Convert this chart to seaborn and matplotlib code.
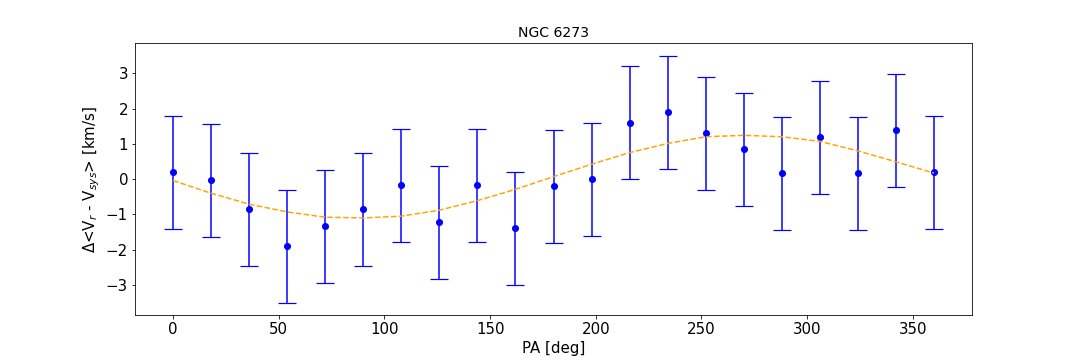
import matplotlib
matplotlib.use("Agg")
import matplotlib.pyplot as plt
import seaborn as sns
import pandas as pd

pa = [0, 18, 36, 54, 72, 90, 108, 126, 144, 162, 180, 198, 216, 234, 252, 270, 288, 306, 324, 342, 360]
dv = [0.20, -0.03, -0.85, -1.90, -1.33, -0.85, -0.17, -1.22, -0.17, -1.39, -0.20, 0.00,
      1.59, 1.90, 1.30, 0.85, 0.17, 1.19, 0.17, 1.39, 0.20]
err = [1.6] * 21
fit = [-0.04, -0.40, -0.71, -0.93, -1.08, -1.10, -1.05, -0.88, -0.61, -0.29, 0.07, 0.42,
       0.75, 1.01, 1.20, 1.24, 1.20, 1.07, 0.80, 0.49, 0.17]

df = pd.DataFrame({"pa": pa, "dv": dv, "err": err, "fit": fit})

fig, ax = plt.subplots(figsize=(15, 5), dpi=72)
fig.subplots_adjust(left=0.125, right=0.9, top=0.88, bottom=0.125)

ax.errorbar(df["pa"], df["dv"], yerr=df["err"], fmt="none", ecolor="blue",
            elinewidth=1.5, capsize=9, capthick=1.2, zorder=2)
sns.scatterplot(data=df, x="pa", y="dv", color="blue", s=50, edgecolor="blue",
                linewidth=0, ax=ax, zorder=3)
sns.lineplot(data=df, x="pa", y="fit", color="orange", linestyle="--", linewidth=1.5,
             ax=ax, zorder=4)

ax.set_title("NGC 6273", fontsize=14)
ax.set_xlabel("PA [deg]", fontsize=15)
ax.set_ylabel(r"$\Delta$<V$_r$ - V$_{sys}$> [km/s]", fontsize=15)
ax.tick_params(labelsize=15)
ax.set_xticks([0, 50, 100, 150, 200, 250, 300, 350])
ax.set_yticks([-3, -2, -1, 0, 1, 2, 3])
ax.set_xlim(-18, 378)
ax.set_ylim(-3.85, 3.85)

fig.savefig("out.png", dpi=72)
